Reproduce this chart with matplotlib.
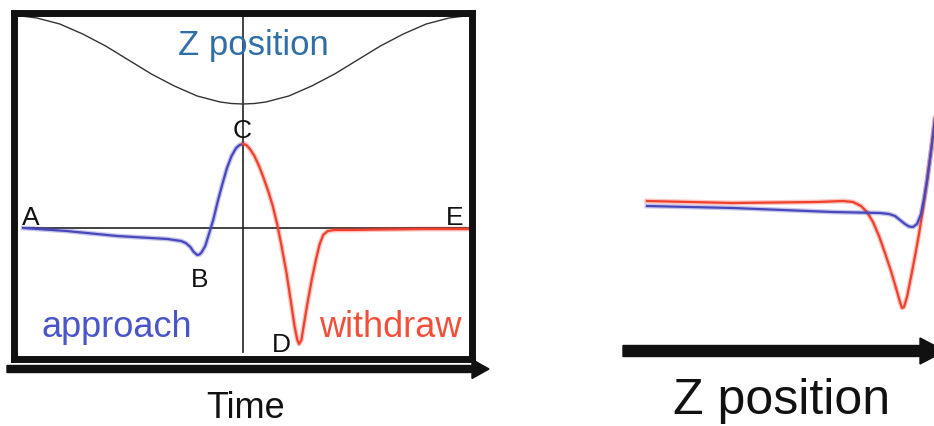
import matplotlib.pyplot as plt

plt.rcParams['font.family'] = ['Liberation Sans', 'DejaVu Sans']

# left panel: signal vs time (time -1..1, 0 = turning point)
z_time = [-0.98, -0.95, -0.90, -0.85, -0.80, -0.75, -0.70, -0.65, -0.60, -0.55,
          -0.50, -0.45, -0.40, -0.35, -0.30, -0.25, -0.20, -0.15, -0.10, -0.05,
          0.0, 0.05, 0.10, 0.15, 0.20, 0.25, 0.30, 0.35, 0.40, 0.45,
          0.50, 0.55, 0.60, 0.65, 0.70, 0.75, 0.80, 0.85, 0.90, 0.95, 0.98]
z_pos = [2.12, 2.115, 2.10, 2.07, 2.04, 1.99, 1.94, 1.88, 1.82, 1.75,
         1.68, 1.61, 1.54, 1.48, 1.42, 1.37, 1.32, 1.29, 1.26, 1.245,
         1.24, 1.245, 1.26, 1.29, 1.32, 1.37, 1.42, 1.48, 1.54, 1.61,
         1.68, 1.75, 1.82, 1.88, 1.94, 1.99, 2.04, 2.07, 2.10, 2.115, 2.12]

appr_time = [-0.96, -0.77, -0.55, -0.33, -0.27, -0.25, -0.23, -0.215, -0.20,
             -0.19, -0.18, -0.165, -0.15, -0.13, -0.11, -0.09, -0.07, -0.05,
             -0.03, -0.015, 0.0]
appr_sig = [0.0, -0.03, -0.08, -0.11, -0.13, -0.15, -0.19, -0.24, -0.27,
            -0.265, -0.24, -0.18, -0.07, 0.08, 0.27, 0.44, 0.60, 0.72,
            0.80, 0.83, 0.84]

wd_time = [0.0, 0.015, 0.03, 0.05, 0.07, 0.09, 0.11, 0.13, 0.15, 0.17, 0.19,
           0.21, 0.225, 0.237, 0.245, 0.255, 0.265, 0.28, 0.30, 0.32, 0.335,
           0.35, 0.37, 0.40, 0.47, 0.60, 0.80, 0.99]
wd_sig = [0.84, 0.83, 0.79, 0.72, 0.62, 0.50, 0.37, 0.22, 0.03, -0.20, -0.45,
          -0.75, -0.98, -1.12, -1.16, -1.12, -0.98, -0.77, -0.52, -0.30, -0.16,
          -0.07, -0.03, -0.02, -0.02, -0.015, -0.01, -0.01]

# point labels (time, signal at baseline)
pt_names = ['A', 'B', 'C', 'D', 'E']
pt_time = [-0.926, -0.188, -0.004, 0.166, 0.926]
pt_sig = [0.04, -0.58, 0.91, -1.23, 0.04]

# right panel: signal vs z position
r_appr_z = [0.24, 1.10, 2.10, 2.57, 2.66, 2.72, 2.77, 2.82, 2.86, 2.90, 2.94,
            2.98, 3.01, 3.04, 3.07, 3.10, 3.13]
r_appr_sig = [1.45, 1.43, 1.39, 1.38, 1.37, 1.35, 1.31, 1.27, 1.245, 1.24, 1.27,
              1.37, 1.52, 1.70, 1.92, 2.15, 2.40]
r_wd_z = [0.24, 1.10, 1.94, 2.20, 2.30, 2.38, 2.44, 2.50, 2.56, 2.62, 2.68, 2.73,
          2.77, 2.79, 2.81, 2.84, 2.88, 2.92, 2.96, 3.00, 3.04, 3.08, 3.12, 3.15]
r_wd_sig = [1.50, 1.48, 1.49, 1.50, 1.49, 1.45, 1.39, 1.29, 1.15, 0.98, 0.80, 0.63,
            0.49, 0.43, 0.44, 0.54, 0.74, 0.95, 1.17, 1.42, 1.70, 2.00, 2.33, 2.62]

blue = '#4848bc'
red = '#f0402e'
W, H = 934, 427

fig = plt.figure(figsize=(W / 100, H / 100), dpi=100)

# left boxed panel
ax = fig.add_axes([14 / W, (H - 360) / H, 458 / W, 346 / H])
ax.set_xlim(-1, 1)
ax.set_ylim(-1.31, 2.15)
ax.set_xticks([])
ax.set_yticks([])
for s in ax.spines.values():
    s.set_linewidth(5)
    s.set_color('#111111')

ax.plot([-0.96, 1.0], [0, 0], color='#222222', lw=1.2)
ax.plot([0, 0], [2.12, -1.24], color='#222222', lw=1.2)
ax.plot(z_time, z_pos, color='#333333', lw=1.0)
ax.plot(appr_time, appr_sig, color=blue, lw=3.5, alpha=0.3)
ax.plot(appr_time, appr_sig, color=blue, lw=1.6)
ax.plot(wd_time, wd_sig, color=red, lw=3.5, alpha=0.3)
ax.plot(wd_time, wd_sig, color=red, lw=1.6)

for name, t, v in zip(pt_names, pt_time, pt_sig):
    ax.text(t, v, name, fontsize=19, ha='center', va='baseline', color='#111111')

ax.text(0.044, 1.74, 'Z position', fontsize=25, ha='center', va='baseline', color='#2f6ea6')
ax.text(-0.55, -1.08, 'approach', fontsize=26, ha='center', va='baseline', color='#4a55c8')
ax.text(0.642, -1.08, 'withdraw', fontsize=26, ha='center', va='baseline', color='#f0503a')

# right panel
ax2 = fig.add_axes([600 / W, 0, 334 / W, 1])
ax2.set_xlim(-0.23, 3.11)
ax2.set_ylim(-0.75, 3.52)
ax2.axis('off')
ax2.plot(r_wd_z, r_wd_sig, color=red, lw=3.5, alpha=0.3)
ax2.plot(r_wd_z, r_wd_sig, color=red, lw=1.6)
ax2.plot(r_appr_z, r_appr_sig, color=blue, lw=3.5, alpha=0.3)
ax2.plot(r_appr_z, r_appr_sig, color=blue, lw=1.6)

# overlay in pixel units for the axis arrows
ov = fig.add_axes([0, 0, 1, 1])
ov.set_xlim(0, W)
ov.set_ylim(H, 0)
ov.axis('off')
ov.arrow(7, 370, 482, 0, width=7, head_width=19, head_length=17,
         length_includes_head=True, color='#111111')
ov.arrow(623, 352, 322, 0, width=11, head_width=26, head_length=25,
         length_includes_head=True, color='#111111')

fig.text(246 / W, 1 - 418 / H, 'Time', fontsize=26, ha='center', va='baseline', color='#111111')
fig.text(782 / W, 1 - 414 / H, 'Z position', fontsize=36, ha='center', va='baseline', color='#111111')

fig.savefig('out.png', dpi=100)
